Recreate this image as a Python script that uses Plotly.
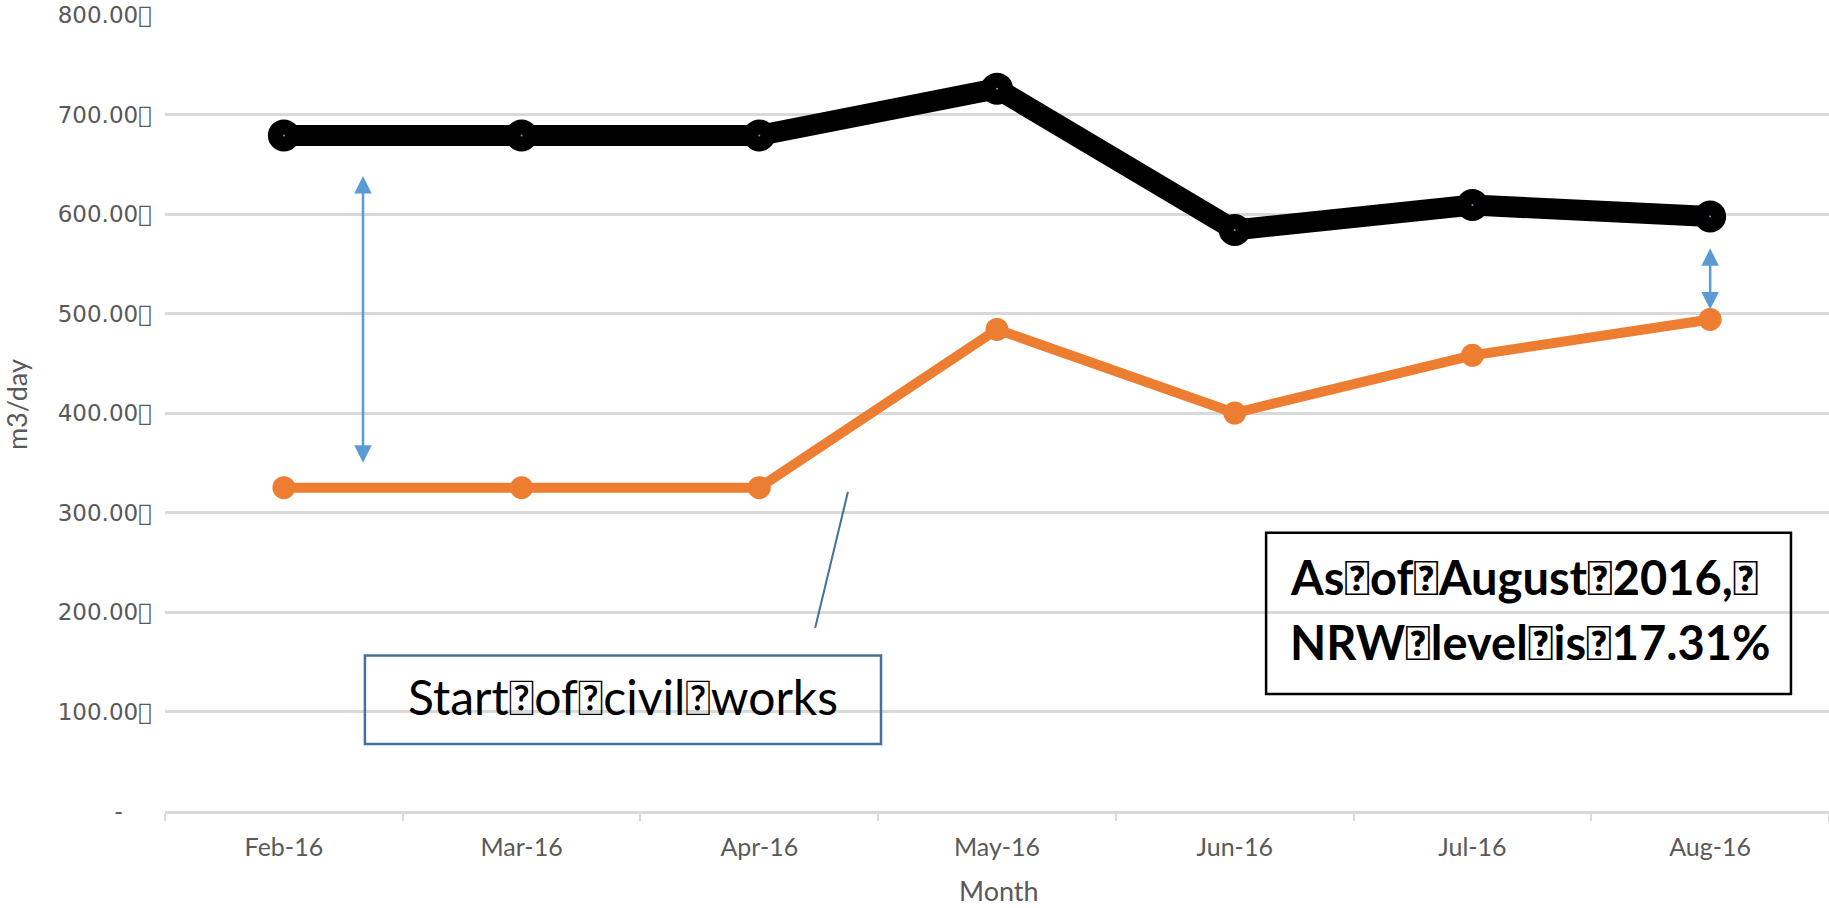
import plotly.graph_objects as go

months = ["Feb-16", "Mar-16", "Apr-16", "May-16", "Jun-16", "Jul-16", "Aug-16"]
water_supplied = [679, 679, 679, 726, 584, 609, 597.5]
water_billed = [325, 325, 325, 484, 400, 458, 494]
y_ticks = [0, 100, 200, 300, 400, 500, 600, 700, 800]
TOFU = "\uf020"
y_ticktext = ["-" + "\u00a0" * 4] + [f"{v:.2f}{TOFU}" for v in y_ticks[1:]]

GRID = "#D9D9D9"
TXT = "#595959"

fig = go.Figure()
fig.add_trace(go.Scatter(
    x=months, y=water_supplied, mode="lines+markers",
    line=dict(color="black", width=21),
    marker=dict(size=17, color="#5B9BD5", line=dict(color="black", width=15)),
    showlegend=False, cliponaxis=False))
fig.add_trace(go.Scatter(
    x=months, y=water_billed, mode="lines+markers",
    line=dict(color="#ED7D31", width=10),
    marker=dict(size=23, color="#ED7D31"),
    showlegend=False, cliponaxis=False))

shapes = [
    dict(type="rect", xref="x", yref="y", x0=0.341, x1=2.512, y0=67.4, y1=156.4,
         line=dict(color="#41719C", width=2.5), fillcolor="rgba(0,0,0,0)", layer="above"),
    dict(type="rect", xref="x", yref="y", x0=4.132, x1=6.34, y0=117.7, y1=279.6,
         line=dict(color="black", width=2.5), fillcolor="rgba(0,0,0,0)", layer="above"),
    dict(type="line", xref="x", yref="y", x0=2.373, y0=320.8, x1=2.235, y1=184,
         line=dict(color="#41719C", width=2)),
]

annotations = [
    dict(x=0.333, y=350, ax=0.333, ay=639.6, xref="x", yref="y", axref="x", ayref="y",
         text="", showarrow=True, arrowside="end+start", arrowhead=2, startarrowhead=2,
         arrowsize=1.4, startarrowsize=1.4, arrowwidth=2.5, arrowcolor="#5B9BD5"),
    dict(x=6, y=504, ax=6, ay=567, xref="x", yref="y", axref="x", ayref="y",
         text="", showarrow=True, arrowside="end+start", arrowhead=2, startarrowhead=2,
         arrowsize=1.4, startarrowsize=1.4, arrowwidth=2.5, arrowcolor="#5B9BD5"),
    dict(x=1.427, y=115, xref="x", yref="y", showarrow=False,
         text=f"Start{TOFU}of{TOFU}civil{TOFU}works",
         font=dict(family="Lato", size=48, color="black"), xanchor="center", yanchor="middle"),
    dict(x=4.224, y=235, xref="x", yref="y", showarrow=False,
         text=f"<b>As{TOFU}of{TOFU}August{TOFU}2016,{TOFU}</b>",
         font=dict(family="Lato", size=47, color="black"), xanchor="left", yanchor="middle"),
    dict(x=4.224, y=170, xref="x", yref="y", showarrow=False,
         text=f"<b>NRW{TOFU}level{TOFU}is{TOFU}17.31%</b>",
         font=dict(family="Lato", size=47, color="black"), xanchor="left", yanchor="middle"),
    dict(x=-0.0895, y=0.51, xref="paper", yref="paper", showarrow=False, text="m3/day",
         textangle=-90, font=dict(family="Lato", size=27, color=TXT),
         xanchor="center", yanchor="middle"),
    dict(x=0.501, y=-0.1, xref="paper", yref="paper", showarrow=False, text="Month",
         font=dict(family="Lato", size=27, color=TXT), xanchor="center", yanchor="middle"),
]

fig.update_layout(
    width=1829, height=908,
    margin=dict(l=165, r=0, t=15, b=97),
    paper_bgcolor="white", plot_bgcolor="white",
    shapes=shapes, annotations=annotations,
    xaxis=dict(type="category", range=[-0.5, 6.5], showgrid=False,
               showline=True, linecolor=GRID, linewidth=2.5,
               ticks="outside", tickson="boundaries", ticklen=7, tickcolor=GRID, tickwidth=2,
               ticklabelstandoff=12,
               tickfont=dict(family="Lato", size=25, color=TXT), fixedrange=True),
    yaxis=dict(range=[0, 800], tickvals=y_ticks, ticktext=y_ticktext,
               showgrid=True, gridcolor=GRID, gridwidth=2.5, zeroline=False,
               showline=False, ticks="", ticklabelstandoff=12,
               tickfont=dict(family="DejaVu Sans", size=23, color=TXT), fixedrange=True),
)

fig.write_html("out.html")
